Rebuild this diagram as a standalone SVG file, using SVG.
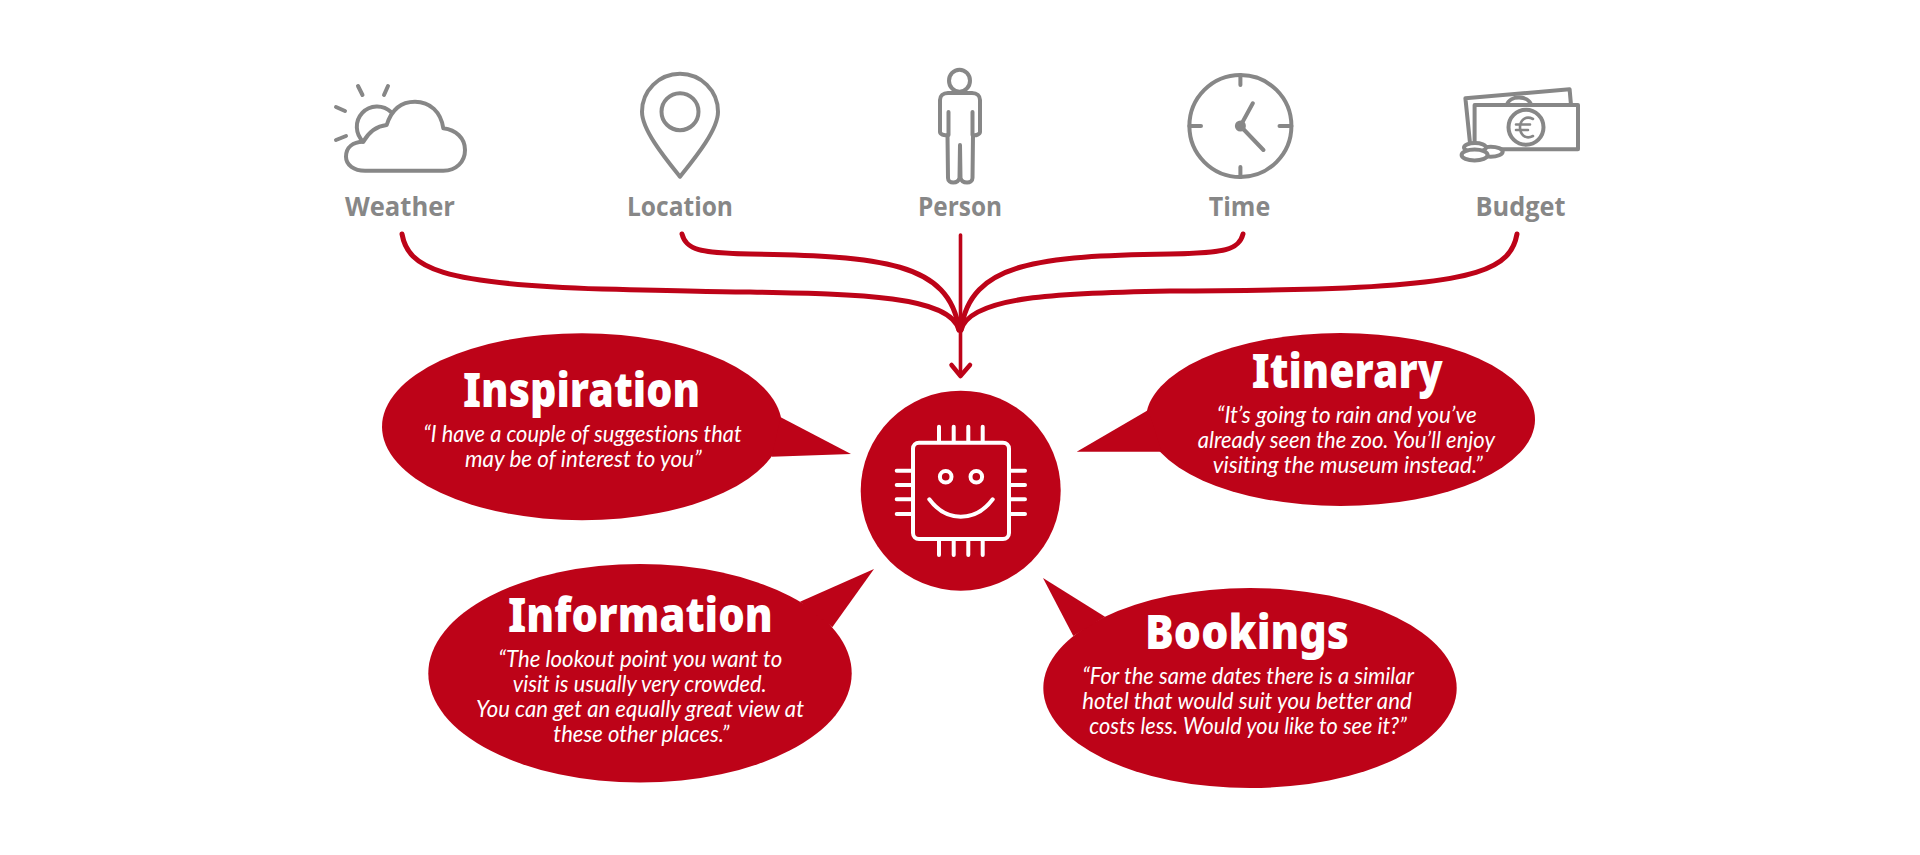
<svg xmlns="http://www.w3.org/2000/svg" width="1920" height="855" viewBox="0 0 1920 855">
<style>
.ic{fill:none;stroke:#878787;stroke-width:4;stroke-linecap:round;stroke-linejoin:round}
.lb{font-family:"Open Sans","Liberation Sans",sans-serif;font-weight:700;font-size:27.5px;fill:#878787}
.bub{fill:#bd0318}
.h{font-family:"Noto Sans","Open Sans",sans-serif;font-weight:900;font-size:47px;fill:#fff}
.q{font-family:Lato,"Liberation Sans",sans-serif;font-style:italic;font-size:23.5px;font-variant-ligatures:none;fill:#fff}
.con{fill:none;stroke:#bd0318;stroke-width:5;stroke-linecap:round;stroke-linejoin:round}
.stem{fill:none;stroke:#bd0318;stroke-width:3.6;stroke-linejoin:round;stroke-linecap:round}
.chip{fill:none;stroke:#fff;stroke-width:4;stroke-linecap:round;stroke-linejoin:round}
</style>
<rect width="1920" height="855" fill="#fff"/>
<g id="connectors">
<path class="con" d="M402 234C408 268 440 284 602 289C680 291 720 292 750 292C860 294 950 296 959 330"/>
<path class="con" d="M682 234C686 250 700 253 750 254C880 256 950 262 959 330"/>
<path class="con" d="M1243 234C1239 250 1225 253 1170 254C1040 256 970 262 961 330"/>
<path class="con" d="M1517 234C1511 268 1480 284 1318 289C1240 291 1200 291 1170 291C1060 293 970 296 961 330"/>
<path class="stem" d="M960.500 235V375"/>
<path class="stem" d="M951.500 365L960.500 376L970 365" style="stroke-width:4.500"/>
</g>
<g id="weather">
<path class="ic" d="M363.300 141.700A20 20 0 1 1 391 112"/>
<path class="ic" d="M363.300 141.700C370 130 378 126 386.700 125C392 108 402 101.700 415 101.700C430 101.700 441 112 443.300 128.300C456 130 465 138 465 150C465 162 456 170.700 443.300 170.700H365C354 170.700 346 165 346 156.700C346 147 353 142 363.300 141.700Z"/>
<path class="ic" d="M358 86L362.500 95M388 86L384 95M336 107L345 111M336 140L346 136"/>
<text class="lb" x="345" y="215.700" textLength="110" lengthAdjust="spacingAndGlyphs">Weather</text>
</g>
<g id="location">
<path class="ic" d="M680 176.700C665 158 642 130 642 111.700A38 38 0 0 1 718 111.700C718 130 695 158 680 176.700Z"/>
<circle class="ic" cx="680" cy="111.700" r="18.500"/>
<text class="lb" x="627" y="215.700" textLength="106" lengthAdjust="spacingAndGlyphs">Location</text>
</g>
<g id="person">
<ellipse class="ic" cx="959.500" cy="80.700" rx="10.500" ry="11"/>
<path class="ic" d="M948 93H972C977 93 980 96 980 100V132C980 134 976 136 973 135L972.500 178C972.500 184 962 184 960.500 178L960 145L959.500 178C958 184 948 184 948 178L947.500 135C944 136 940 134 940 132V100C940 96 943 93 948 93Z"/>
<path class="ic" d="M948.500 112V135M972.500 112V135"/>
<text class="lb" x="918" y="215.700" textLength="84" lengthAdjust="spacingAndGlyphs">Person</text>
</g>
<g id="time">
<circle class="ic" cx="1240.400" cy="126" r="51"/>
<path class="ic" d="M1240.400 75V85M1240.400 167V177M1189.400 126H1201M1279.500 126H1291.400M1240.400 126L1252.800 103.300M1240.400 126L1263.400 150"/>
<circle cx="1240.400" cy="126" r="5.500" fill="#878787"/>
<text class="lb" x="1208.700" y="215.700" textLength="61.500" lengthAdjust="spacingAndGlyphs">Time</text>
</g>
<g id="budget">
<path class="ic" d="M1470 143L1465.400 98.300L1569.600 89.300L1571 105"/>
<path class="ic" d="M1507 105C1509 95 1529 95 1531 105"/>
<rect class="ic" x="1474.600" y="105" width="103.400" height="44.300" style="fill:#fff"/>
<circle class="ic" cx="1526" cy="127.300" r="17.500"/>
<path class="ic" d="M1533 119C1525 115 1520 121 1520 127.300C1520 134 1525 140 1533 136M1516 124.500H1530M1516 130H1528" style="stroke-width:2.600"/>
<ellipse class="ic" cx="1490.700" cy="151.700" rx="12" ry="5" style="fill:#fff"/>
<ellipse class="ic" cx="1475" cy="147.500" rx="11" ry="4.500" style="fill:#fff"/>
<ellipse class="ic" cx="1474.600" cy="155" rx="13" ry="5.500" style="fill:#fff"/>
<text class="lb" x="1475.500" y="215.700" textLength="90" lengthAdjust="spacingAndGlyphs">Budget</text>
</g>
<g id="assistant">
<circle class="bub" cx="960.700" cy="490.700" r="100"/>
<rect class="chip" x="913" y="442.700" width="96" height="96.300" rx="6"/>
<path class="chip" d="M939 426.700V442M953.700 426.700V442M968.300 426.700V442M982.700 426.700V442M939 540V555M953.700 540V555M968.300 540V555M982.700 540V555M896.700 470.700H912M896.700 485H912M896.700 499.300H912M896.700 514H912M1010 470.700H1025M1010 485H1025M1010 499.300H1025M1010 514H1025"/>
<circle class="chip" cx="945.700" cy="476.700" r="5.800"/>
<circle class="chip" cx="976.300" cy="476.700" r="5.800"/>
<path class="chip" d="M929.300 499.300C938 511 949 516.700 960.700 516.700C972 516.700 984 511 992.700 499.300"/>
</g>
<g id="inspiration">
<ellipse class="bub" cx="582" cy="426.700" rx="200" ry="93.500"/>
<path class="bub" d="M780.700 417.300L851 454L771.700 456.700Z"/>
<text class="h" x="463" y="407.300" textLength="237" lengthAdjust="spacingAndGlyphs">Inspiration</text>
<text class="q" x="423.300" y="441.700" textLength="318.400" lengthAdjust="spacingAndGlyphs">“I have a couple of suggestions that</text>
<text class="q" x="465" y="466.700" textLength="236.700" lengthAdjust="spacingAndGlyphs">may be of interest to you”</text>
</g>
<g id="itinerary">
<ellipse class="bub" cx="1340.500" cy="419.500" rx="194.500" ry="86.500"/>
<path class="bub" d="M1148.300 410L1076.700 451.700L1161.700 451.700Z"/>
<text class="h" x="1251.700" y="388.300" textLength="191" lengthAdjust="spacingAndGlyphs">Itinerary</text>
<text class="q" x="1216.700" y="423.300" textLength="260" lengthAdjust="spacingAndGlyphs">“It’s going to rain and you’ve</text>
<text class="q" x="1197.700" y="448.300" textLength="297.300" lengthAdjust="spacingAndGlyphs">already seen the zoo. You’ll enjoy</text>
<text class="q" x="1212.700" y="472.700" textLength="270" lengthAdjust="spacingAndGlyphs">visiting the museum instead.”</text>
</g>
<g id="information">
<ellipse class="bub" cx="640" cy="673.300" rx="211.700" ry="109.300"/>
<path class="bub" d="M800 601.700L874 569L832.300 627.300Z"/>
<text class="h" x="508" y="632.300" textLength="264.700" lengthAdjust="spacingAndGlyphs">Information</text>
<text class="q" x="498.300" y="667.300" textLength="284" lengthAdjust="spacingAndGlyphs">“The lookout point you want to</text>
<text class="q" x="512.700" y="692.300" textLength="254" lengthAdjust="spacingAndGlyphs">visit is usually very crowded.</text>
<text class="q" x="476" y="717.300" textLength="328" lengthAdjust="spacingAndGlyphs">You can get an equally great view at</text>
<text class="q" x="553.300" y="742.300" textLength="176" lengthAdjust="spacingAndGlyphs">these other places.”</text>
</g>
<g id="bookings">
<ellipse class="bub" cx="1250" cy="688" rx="206.700" ry="100"/>
<path class="bub" d="M1105 616.700L1043 578L1073.300 636Z"/>
<text class="h" x="1145" y="649" textLength="204" lengthAdjust="spacingAndGlyphs">Bookings</text>
<text class="q" x="1082.300" y="684" textLength="331.700" lengthAdjust="spacingAndGlyphs">“For the same dates there is a similar</text>
<text class="q" x="1082.300" y="709" textLength="329.400" lengthAdjust="spacingAndGlyphs">hotel that would suit you better and</text>
<text class="q" x="1089.300" y="734" textLength="317.400" lengthAdjust="spacingAndGlyphs">costs less. Would you like to see it?”</text>
</g>
</svg>
